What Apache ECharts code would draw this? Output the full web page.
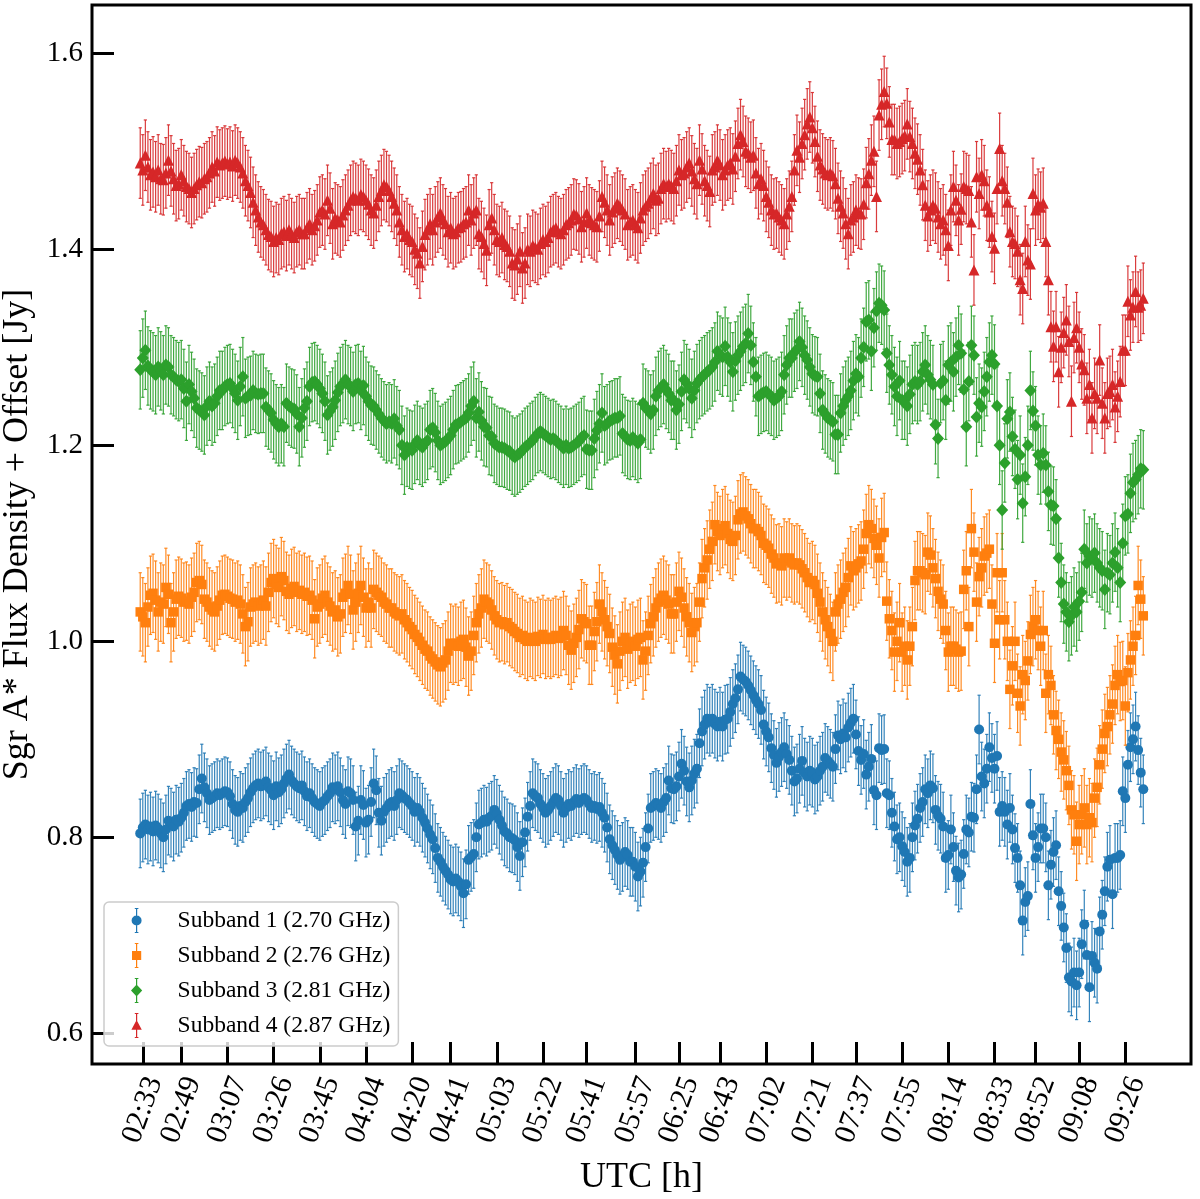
<!DOCTYPE html>
<html>
<head>
<meta charset="utf-8">
<title>Sgr A* flux density per subband</title>
<script src="https://cdn.jsdelivr.net/npm/echarts@6/dist/echarts.min.js"></script>
<style>
  html, body { margin: 0; padding: 0; background: #fff; }
  #chart { width: 1200px; height: 1199px; }
</style>
</head>
<body>
<div id="chart"></div>
<script>
// x axis is the scan index, ticks carry the UTC time of that scan
const tickIdx = [1, 16, 34, 52, 70, 88, 106, 121, 139, 157, 174, 193, 210, 226, 244, 262, 279, 297, 315, 333, 349, 366, 384];
const tickLabels = ['02:33', '02:49', '03:07', '03:26', '03:45', '04:04', '04:20', '04:41', '05:03', '05:22', '05:41', '05:57',
  '06:25', '06:43', '07:02', '07:21', '07:37', '07:55', '08:14', '08:33', '08:52', '09:08', '09:26'];
const yTicks = [0.6, 0.8, 1.0, 1.2, 1.4, 1.6];

const names = ['Subband 1 (2.70 GHz)', 'Subband 2 (2.76 GHz)', 'Subband 3 (2.81 GHz)', 'Subband 4 (2.87 GHz)'];
const errSize = [0.035, 0.040, 0.040, 0.036]; // 1 sigma, Jy

// flux density + offset [Jy], one value per scan
const sub1 = [
  0.804, 0.810, 0.813, 0.808, 0.811, 0.806, 0.812, 0.809, 0.804, 0.800, 0.808, 0.817, 0.815, 0.811, 0.818, 0.816,
  0.820, 0.825, 0.832, 0.834, 0.831, 0.836, 0.835, 0.849, 0.860, 0.851, 0.845, 0.838, 0.840, 0.842, 0.845, 0.843,
  0.845, 0.847, 0.846, 0.842, 0.834, 0.828, 0.826, 0.832, 0.830, 0.836, 0.840, 0.846, 0.850, 0.853, 0.855, 0.852,
  0.854, 0.857, 0.851, 0.848, 0.843, 0.852, 0.846, 0.849, 0.855, 0.860, 0.864, 0.858, 0.855, 0.852, 0.850, 0.853,
  0.847, 0.842, 0.845, 0.840, 0.836, 0.834, 0.832, 0.836, 0.838, 0.842, 0.845, 0.851, 0.849, 0.852, 0.846, 0.838,
  0.834, 0.847, 0.845, 0.838, 0.811, 0.817, 0.838, 0.833, 0.815, 0.818, 0.836, 0.855, 0.848, 0.825, 0.817, 0.826,
  0.830, 0.834, 0.836, 0.832, 0.838, 0.845, 0.843, 0.840, 0.838, 0.835, 0.832, 0.826, 0.830, 0.826, 0.820, 0.815,
  0.809, 0.803, 0.798, 0.789, 0.779, 0.775, 0.770, 0.766, 0.762, 0.757, 0.755, 0.758, 0.755, 0.750, 0.743, 0.752,
  0.777, 0.780, 0.783, 0.800, 0.813, 0.815, 0.818, 0.816, 0.820, 0.822, 0.828, 0.824, 0.818, 0.812, 0.806, 0.804,
  0.800, 0.799, 0.797, 0.790, 0.781, 0.795, 0.805, 0.821, 0.832, 0.845, 0.842, 0.840, 0.834, 0.830, 0.825, 0.828,
  0.832, 0.836, 0.840, 0.838, 0.832, 0.825, 0.830, 0.834, 0.832, 0.836, 0.839, 0.835, 0.838, 0.840, 0.838, 0.834,
  0.830, 0.832, 0.829, 0.831, 0.825, 0.820, 0.810, 0.798, 0.792, 0.787, 0.782, 0.777, 0.780, 0.785, 0.782, 0.775,
  0.775, 0.770, 0.760, 0.765, 0.774, 0.790, 0.809, 0.830, 0.832, 0.835, 0.833, 0.830, 0.836, 0.840, 0.858, 0.850,
  0.849, 0.852, 0.862, 0.875, 0.868, 0.857, 0.851, 0.858, 0.865, 0.870, 0.896, 0.908, 0.915, 0.921, 0.918, 0.921,
  0.916, 0.913, 0.918, 0.913, 0.920, 0.921, 0.928, 0.936, 0.942, 0.951, 0.964, 0.961, 0.959, 0.955, 0.950, 0.945,
  0.940, 0.936, 0.930, 0.915, 0.908, 0.902, 0.891, 0.884, 0.876, 0.882, 0.887, 0.892, 0.885, 0.879, 0.868, 0.857,
  0.860, 0.870, 0.878, 0.866, 0.862, 0.868, 0.866, 0.859, 0.862, 0.868, 0.872, 0.881, 0.878, 0.875, 0.872, 0.890,
  0.904, 0.900, 0.906, 0.902, 0.912, 0.917, 0.921, 0.905, 0.888, 0.879, 0.885, 0.864, 0.872, 0.880, 0.848, 0.843,
  0.891, 0.889, 0.890, 0.845, 0.843, 0.825, 0.811, 0.798, 0.800, 0.791, 0.785, 0.775, 0.779, 0.800, 0.812, 0.819,
  0.830, 0.836, 0.849, 0.845, 0.853, 0.850, 0.828, 0.822, 0.819, 0.811, 0.779, 0.782, 0.808, 0.790, 0.766, 0.759,
  0.762, 0.783, 0.808, 0.805, 0.821, 0.820, 0.849, 0.910, 0.862, 0.855, 0.870, 0.892, 0.881, 0.870, 0.883, 0.826,
  0.832, 0.826, 0.813, 0.830, 0.808, 0.789, 0.779, 0.751, 0.715, 0.734, 0.740, 0.834, 0.802, 0.779, 0.790, 0.809,
  0.809, 0.800, 0.751, 0.772, 0.785, 0.792, 0.745, 0.730, 0.708, 0.687, 0.657, 0.653, 0.662, 0.649, 0.662, 0.691,
  0.711, 0.680, 0.647, 0.679, 0.672, 0.666, 0.704, 0.721, 0.745, 0.770, 0.777, 0.742, 0.779, 0.779, 0.782, 0.847,
  0.840, 0.874, 0.892, 0.900, 0.913, 0.889, 0.866, 0.849
];
const sub2 = [
  1.030, 1.025, 1.019, 1.035, 1.047, 1.049, 1.042, 1.030, 1.040, 1.038, 1.055, 1.048, 1.019, 1.030, 1.043, 1.046,
  1.044, 1.040, 1.041, 1.038, 1.045, 1.050, 1.060, 1.062, 1.058, 1.043, 1.040, 1.035, 1.032, 1.030, 1.036, 1.042,
  1.047, 1.048, 1.046, 1.044, 1.043, 1.040, 1.042, 1.038, 1.028, 1.015, 1.020, 1.035, 1.038, 1.040, 1.036, 1.038,
  1.042, 1.036, 1.050, 1.060, 1.064, 1.058, 1.055, 1.066, 1.062, 1.051, 1.048, 1.054, 1.056, 1.050, 1.052, 1.048,
  1.050, 1.046, 1.047, 1.042, 1.023, 1.035, 1.038, 1.044, 1.047, 1.040, 1.036, 1.030, 1.032, 1.025, 1.028, 1.045,
  1.049, 1.057, 1.048, 1.032, 1.040, 1.049, 1.057, 1.045, 1.034, 1.040, 1.034, 1.053, 1.050, 1.047, 1.045, 1.040,
  1.038, 1.034, 1.034, 1.030, 1.028, 1.026, 1.028, 1.022, 1.019, 1.015, 1.012, 1.007, 1.004, 1.000, 0.996, 0.992,
  0.990, 0.985, 0.982, 0.979, 0.976, 0.974, 0.978, 0.981, 0.990, 0.998, 0.996, 0.998, 0.995, 1.000, 1.002, 0.994,
  0.985, 0.990, 1.006, 1.019, 1.028, 1.034, 1.043, 1.040, 1.038, 1.032, 1.026, 1.022, 1.019, 1.020, 1.017, 1.019,
  1.015, 1.013, 1.010, 1.008, 1.004, 1.006, 1.002, 1.000, 1.004, 1.002, 1.000, 1.005, 1.003, 1.007, 1.002, 1.004,
  1.002, 1.004, 1.006, 1.003, 1.005, 1.011, 1.006, 0.996, 0.991, 0.998, 1.004, 1.012, 1.023, 1.020, 1.018, 0.996,
  0.996, 1.010, 1.020, 1.038, 1.030, 1.022, 1.015, 1.008, 0.994, 0.986, 0.977, 0.990, 1.000, 1.004, 0.992, 0.998,
  1.000, 0.995, 1.002, 1.004, 0.981, 0.990, 1.006, 1.018, 1.025, 1.034, 1.040, 1.044, 1.047, 1.042, 1.038, 1.028,
  1.028, 1.040, 1.051, 1.045, 1.034, 1.025, 1.019, 1.009, 1.015, 1.019, 1.040, 1.064, 1.075, 1.083, 1.094, 1.102,
  1.119, 1.112, 1.108, 1.115, 1.118, 1.110, 1.104, 1.102, 1.108, 1.124, 1.130, 1.132, 1.128, 1.125, 1.120, 1.115,
  1.115, 1.112, 1.108, 1.100, 1.098, 1.095, 1.089, 1.085, 1.079, 1.080, 1.077, 1.085, 1.082, 1.085, 1.080, 1.078,
  1.080, 1.078, 1.074, 1.070, 1.065, 1.060, 1.062, 1.058, 1.049, 1.040, 1.030, 1.022, 1.015, 1.008, 1.000, 1.030,
  1.038, 1.043, 1.050, 1.055, 1.065, 1.077, 1.072, 1.075, 1.079, 1.082, 1.094, 1.110, 1.119, 1.115, 1.105, 1.098,
  1.085, 1.106, 1.111, 1.041, 1.023, 1.011, 0.989, 1.000, 1.019, 0.989, 0.995, 0.981, 0.995, 1.015, 1.062, 1.072,
  1.072, 1.070, 1.068, 1.091, 1.088, 1.075, 1.064, 1.051, 1.043, 1.038, 1.011, 0.989, 0.995, 0.995, 0.992, 0.989,
  0.990, 1.053, 1.072, 1.015, 1.115, 1.091, 1.040, 1.066, 1.075, 1.087, 1.090, 1.094, 1.038, 0.998, 1.070, 1.022,
  1.070, 1.022, 1.000, 0.951, 0.975, 1.000, 0.947, 0.934, 0.966, 0.960, 0.980, 1.007, 1.015, 1.022, 1.011, 0.995,
  1.011, 0.947, 0.966, 0.955, 0.925, 0.909, 0.900, 0.887, 0.879, 0.868, 0.853, 0.828, 0.823, 0.796, 0.813, 0.823,
  0.830, 0.813, 0.820, 0.815, 0.840, 0.851, 0.874, 0.890, 0.906, 0.913, 0.925, 0.936, 0.955, 0.966, 0.959, 0.960,
  0.934, 0.968, 0.981, 0.995, 1.006, 1.057, 1.043, 1.026
];
const sub3 = [
  1.277, 1.289, 1.297, 1.281, 1.277, 1.275, 1.272, 1.280, 1.276, 1.272, 1.282, 1.280, 1.272, 1.270, 1.267, 1.265,
  1.267, 1.258, 1.245, 1.262, 1.255, 1.248, 1.238, 1.236, 1.234, 1.231, 1.240, 1.245, 1.240, 1.243, 1.250, 1.256,
  1.256, 1.260, 1.262, 1.263, 1.258, 1.253, 1.246, 1.260, 1.270, 1.248, 1.250, 1.251, 1.256, 1.253, 1.252, 1.253,
  1.253, 1.239, 1.236, 1.233, 1.226, 1.222, 1.219, 1.222, 1.219, 1.243, 1.240, 1.238, 1.237, 1.232, 1.219, 1.228,
  1.238, 1.245, 1.260, 1.264, 1.265, 1.262, 1.258, 1.253, 1.245, 1.231, 1.235, 1.239, 1.246, 1.254, 1.260, 1.263,
  1.267, 1.262, 1.260, 1.255, 1.262, 1.263, 1.256, 1.261, 1.250, 1.245, 1.241, 1.240, 1.236, 1.232, 1.228, 1.225,
  1.222, 1.224, 1.222, 1.227, 1.220, 1.216, 1.200, 1.190, 1.198, 1.196, 1.195, 1.201, 1.205, 1.200, 1.198, 1.202,
  1.205, 1.216, 1.218, 1.213, 1.205, 1.200, 1.202, 1.204, 1.207, 1.210, 1.216, 1.221, 1.222, 1.224, 1.226, 1.228,
  1.233, 1.240, 1.245, 1.228, 1.234, 1.225, 1.219, 1.218, 1.210, 1.209, 1.202, 1.200, 1.198, 1.198, 1.197, 1.195,
  1.194, 1.190, 1.188, 1.190, 1.192, 1.195, 1.198, 1.200, 1.203, 1.205, 1.209, 1.212, 1.214, 1.212, 1.210, 1.208,
  1.206, 1.207, 1.205, 1.202, 1.200, 1.197, 1.200, 1.197, 1.198, 1.200, 1.202, 1.204, 1.208, 1.210, 1.196, 1.195,
  1.195, 1.207, 1.215, 1.222, 1.233, 1.220, 1.222, 1.225, 1.226, 1.228, 1.228, 1.230, 1.212, 1.209, 1.206, 1.205,
  1.208, 1.205, 1.202, 1.206, 1.243, 1.238, 1.236, 1.232, 1.236, 1.250, 1.256, 1.259, 1.262, 1.257, 1.253, 1.246,
  1.246, 1.236, 1.242, 1.255, 1.267, 1.263, 1.258, 1.248, 1.256, 1.263, 1.267, 1.270, 1.272, 1.275, 1.277, 1.280,
  1.285, 1.296, 1.292, 1.290, 1.301, 1.290, 1.285, 1.275, 1.286, 1.292, 1.296, 1.301, 1.304, 1.314, 1.302, 1.285,
  1.270, 1.250, 1.252, 1.254, 1.255, 1.252, 1.250, 1.246, 1.248, 1.250, 1.255, 1.272, 1.282, 1.289, 1.289, 1.295,
  1.298, 1.306, 1.300, 1.292, 1.287, 1.280, 1.273, 1.271, 1.270, 1.253, 1.236, 1.232, 1.228, 1.226, 1.224, 1.211,
  1.211, 1.233, 1.240, 1.246, 1.250, 1.256, 1.266, 1.273, 1.270, 1.289, 1.300, 1.326, 1.328, 1.296, 1.320, 1.337,
  1.345, 1.343, 1.338, 1.294, 1.282, 1.272, 1.260, 1.250, 1.266, 1.246, 1.246, 1.240, 1.252, 1.262, 1.265, 1.262,
  1.265, 1.275, 1.282, 1.272, 1.267, 1.262, 1.221, 1.207, 1.263, 1.266, 1.246, 1.282, 1.285, 1.275, 1.290, 1.302,
  1.294, 1.257, 1.219, 1.265, 1.302, 1.292, 1.229, 1.243, 1.239, 1.255, 1.270, 1.285, 1.292, 1.283, 1.240, 1.200,
  1.134, 1.182, 1.227, 1.234, 1.209, 1.196, 1.165, 1.190, 1.141, 1.168, 1.200, 1.256, 1.235, 1.220, 1.190, 1.180,
  1.192, 1.180, 1.153, 1.139, 1.138, 1.125, 1.085, 1.060, 1.038, 1.030, 1.020, 1.026, 1.035, 1.030, 1.041, 1.050,
  1.094, 1.080, 1.087, 1.085, 1.090, 1.080, 1.075, 1.072, 1.053, 1.070, 1.068, 1.080, 1.091, 1.075, 1.060, 1.100,
  1.128, 1.130, 1.151, 1.162, 1.165, 1.170, 1.176, 1.175
];
const sub4 = [
  1.488, 1.481, 1.496, 1.484, 1.476, 1.479, 1.474, 1.481, 1.472, 1.471, 1.478, 1.491, 1.480, 1.472, 1.465, 1.467,
  1.476, 1.470, 1.464, 1.462, 1.458, 1.462, 1.466, 1.469, 1.468, 1.472, 1.474, 1.478, 1.484, 1.480, 1.489, 1.486,
  1.488, 1.490, 1.487, 1.489, 1.485, 1.491, 1.488, 1.484, 1.478, 1.470, 1.465, 1.458, 1.448, 1.440, 1.433, 1.428,
  1.425, 1.420, 1.415, 1.413, 1.408, 1.412, 1.410, 1.416, 1.418, 1.414, 1.420, 1.416, 1.412, 1.418, 1.420, 1.416,
  1.416, 1.422, 1.426, 1.420, 1.424, 1.430, 1.438, 1.440, 1.436, 1.450, 1.442, 1.426, 1.432, 1.430, 1.428, 1.435,
  1.440, 1.445, 1.450, 1.454, 1.452, 1.450, 1.456, 1.454, 1.450, 1.446, 1.440, 1.437, 1.445, 1.454, 1.460, 1.466,
  1.464, 1.460, 1.454, 1.447, 1.440, 1.428, 1.420, 1.413, 1.416, 1.410, 1.408, 1.400, 1.396, 1.386, 1.403, 1.415,
  1.420, 1.426, 1.420, 1.428, 1.433, 1.437, 1.430, 1.426, 1.418, 1.422, 1.416, 1.418, 1.422, 1.423, 1.426, 1.428,
  1.440, 1.430, 1.437, 1.440, 1.416, 1.413, 1.406, 1.399, 1.425, 1.432, 1.420, 1.410, 1.408, 1.412, 1.405, 1.403,
  1.398, 1.386, 1.384, 1.390, 1.398, 1.381, 1.386, 1.400, 1.398, 1.404, 1.402, 1.400, 1.406, 1.410, 1.408, 1.412,
  1.418, 1.420, 1.422, 1.418, 1.416, 1.420, 1.425, 1.427, 1.430, 1.436, 1.435, 1.431, 1.423, 1.428, 1.437, 1.430,
  1.427, 1.425, 1.423, 1.434, 1.454, 1.448, 1.440, 1.430, 1.438, 1.442, 1.447, 1.444, 1.440, 1.436, 1.425, 1.428,
  1.430, 1.425, 1.422, 1.432, 1.440, 1.444, 1.447, 1.452, 1.457, 1.450, 1.452, 1.462, 1.467, 1.464, 1.467, 1.465,
  1.462, 1.470, 1.481, 1.476, 1.478, 1.484, 1.488, 1.480, 1.472, 1.467, 1.491, 1.482, 1.470, 1.465, 1.459, 1.481,
  1.484, 1.491, 1.486, 1.476, 1.481, 1.486, 1.488, 1.482, 1.495, 1.508, 1.517, 1.510, 1.500, 1.498, 1.494, 1.496,
  1.478, 1.467, 1.472, 1.465, 1.454, 1.448, 1.440, 1.436, 1.437, 1.433, 1.430, 1.426, 1.436, 1.444, 1.454, 1.481,
  1.501, 1.494, 1.508, 1.517, 1.528, 1.535, 1.524, 1.510, 1.495, 1.486, 1.482, 1.478, 1.476, 1.478, 1.475, 1.467,
  1.452, 1.444, 1.437, 1.426, 1.416, 1.430, 1.433, 1.440, 1.437, 1.436, 1.446, 1.468, 1.477, 1.491, 1.500, 1.454,
  1.537, 1.548, 1.561, 1.549, 1.530, 1.512, 1.512, 1.508, 1.510, 1.513, 1.516, 1.528, 1.515, 1.508, 1.498, 1.492,
  1.481, 1.466, 1.445, 1.434, 1.440, 1.445, 1.442, 1.433, 1.426, 1.430, 1.420, 1.404, 1.440, 1.464, 1.450, 1.430,
  1.441, 1.464, 1.462, 1.460, 1.428, 1.379, 1.474, 1.457, 1.476, 1.470, 1.445, 1.438, 1.413, 1.401, 1.462, 1.503,
  1.470, 1.462, 1.448, 1.418, 1.408, 1.406, 1.398, 1.369, 1.360, 1.408, 1.389, 1.385, 1.457, 1.440, 1.446, 1.443,
  1.447, 1.408, 1.369, 1.321, 1.301, 1.321, 1.275, 1.300, 1.315, 1.328, 1.306, 1.245, 1.310, 1.320, 1.300, 1.283,
  1.277, 1.248, 1.262, 1.228, 1.253, 1.248, 1.287, 1.243, 1.228, 1.253, 1.255, 1.262, 1.239, 1.250, 1.265, 1.297,
  1.297, 1.347, 1.333, 1.341, 1.357, 1.341, 1.343, 1.350
];

const colors = ['#1f77b4', '#ff7f0e', '#2ca02c', '#d62728'];
const serif = '"Liberation Serif", "DejaVu Serif", serif';

const chartDom = document.getElementById('chart');
const myChart = echarts.init(chartDom, null, { renderer: 'canvas' });

// vertical error bar with small caps
function errBar(color, halfErr) {
  return function (params, api) {
    const x = api.value(0);
    const y = api.value(1);
    const top = api.coord([x, y + halfErr]);
    const bot = api.coord([x, y - halfErr]);
    const cap = 1.6;
    const style = { stroke: color, lineWidth: 1.2, opacity: 0.9 };
    return {
      type: 'group',
      children: [
        { type: 'line', shape: { x1: top[0], y1: top[1], x2: bot[0], y2: bot[1] }, style: style },
        { type: 'line', shape: { x1: top[0] - cap, y1: top[1], x2: top[0] + cap, y2: top[1] }, style: style },
        { type: 'line', shape: { x1: bot[0] - cap, y1: bot[1], x2: bot[0] + cap, y2: bot[1] }, style: style }
      ]
    };
  };
}

const allSub = [sub1, sub2, sub3, sub4];
const markers = [
  { symbol: 'circle', size: 10 },
  { symbol: 'rect', size: 9.5 },
  { symbol: 'diamond', size: [12, 13] },
  { symbol: 'triangle', size: 11 }
];
// legend icons: marker with its error bar through it
const bar = 'M-0.6,-12.5h1.2v25h-1.2Z M-1.8,-12.5h3.6v1h-3.6Z M-1.8,11.5h3.6v1h-3.6Z ';
const legendIcons = [
  'path://' + bar + 'M5,0A5,5 0 1,1 -5,0A5,5 0 1,1 5,0Z',
  'path://' + bar + 'M-4.6,-4.6h9.2v9.2h-9.2Z',
  'path://' + bar + 'M0,-6L5.6,0L0,6L-5.6,0Z',
  'path://' + bar + 'M0,-5.4L5.2,4.2L-5.2,4.2Z'
];

const series = [];
allSub.forEach((vals, k) => {
  const pts = vals.map((v, i) => [i, v]);
  series.push({
    type: 'custom',
    name: names[k],
    renderItem: errBar(colors[k], errSize[k]),
    data: pts,
    z: 2 + 2 * k,
    silent: true
  });
  series.push({
    type: 'scatter',
    name: names[k],
    data: pts,
    symbol: markers[k].symbol,
    symbolSize: markers[k].size,
    itemStyle: { color: colors[k], opacity: 1 },
    z: 3 + 2 * k
  });
});

const option = {
  animation: false,
  backgroundColor: '#ffffff',
  grid: {
    left: 92, right: 9, top: 5, bottom: 135,
    outerBoundsMode: 'none',
    containLabel: false,
    show: true, borderColor: '#000', borderWidth: 3, backgroundColor: 'transparent'
  },
  legend: {
    orient: 'vertical',
    left: 104, top: 902,
    itemWidth: 12, itemHeight: 25, itemGap: 10,
    padding: [6, 8, 8, 27],
    backgroundColor: 'rgba(255,255,255,0.8)',
    borderColor: '#cccccc', borderWidth: 1.5, borderRadius: 5,
    textStyle: { fontFamily: serif, fontSize: 23.5, color: '#000', padding: [0, 0, 0, 30] },
    z: 30,
    data: names.map((n, k) => ({ name: n, icon: legendIcons[k], itemStyle: { color: colors[k] } }))
  },
  xAxis: {
    type: 'value',
    min: -18.8, max: 409.6,
    splitLine: { show: false },
    axisLine: { show: false, onZero: false },
    axisTick: {
      show: true, inside: true, length: 22,
      lineStyle: { color: '#000', width: 3 },
      customValues: tickIdx
    },
    axisLabel: {
      customValues: tickIdx,
      formatter: function (v) { return tickLabels[tickIdx.indexOf(v)]; },
      rotate: 70, margin: 46,
      align: 'center', verticalAlign: 'middle',
      fontFamily: serif, fontSize: 30, color: '#000'
    },
    name: 'UTC [h]', nameLocation: 'middle', nameGap: 96,
    nameTextStyle: { fontFamily: serif, fontSize: 36, color: '#000' }
  },
  yAxis: {
    type: 'value',
    min: 0.5687, max: 1.6493,
    splitLine: { show: false },
    axisLine: { show: false, onZero: false },
    axisTick: {
      show: true, inside: true, length: 22,
      lineStyle: { color: '#000', width: 3 },
      customValues: yTicks
    },
    axisLabel: {
      customValues: yTicks,
      formatter: function (v) { return v.toFixed(1); },
      margin: 9,
      fontFamily: serif, fontSize: 29, color: '#000'
    },
    name: 'Sgr A* Flux Density + Offset [Jy]', nameLocation: 'middle', nameGap: 49,
    nameTextStyle: { fontFamily: serif, fontSize: 36, color: '#000' }
  },
  series: series
};

myChart.setOption(option);
</script>
</body>
</html>
